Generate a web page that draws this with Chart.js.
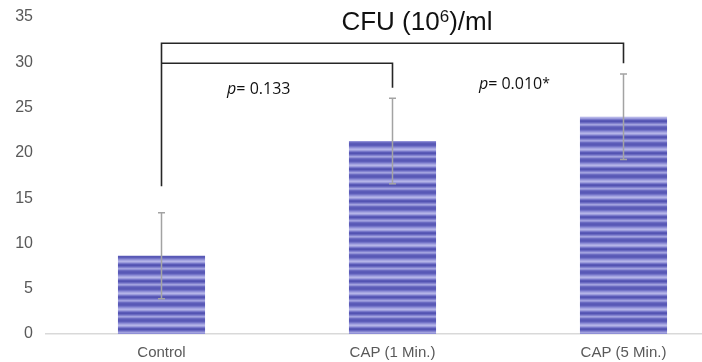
<!DOCTYPE html>
<html><head><meta charset="utf-8">
<script src="https://cdn.jsdelivr.net/npm/chart.js@4/dist/chart.umd.min.js"></script>
<style>html,body{margin:0;padding:0;overflow:hidden;background:#fff;width:702px;height:362px}
#wrap{width:740px;height:362px;position:relative}</style>
</head><body><div id="wrap"><canvas id="c" width="740" height="362"></canvas></div>
<script>
const categories = ['Control', 'CAP (1 Min.)', 'CAP (5 Min.)'];
const means = [8.65, 21.3, 24.0];
const sds = [4.75, 4.72, 4.72];
const yTicks = [0, 5, 10, 15, 20, 25, 30, 35];
// significance brackets: from/to category index, level, drop ends (data units)
const brackets = [
  {from: 0, to: 2, level: 32.1, leftEnd: 16.3, rightEnd: 29.9},
  {from: 0, to: 1, level: 29.9, leftEnd: 29.9, rightEnd: 27.2}
];
const pLabels = [
  {text: '0.133', star: '', cat: 0.284, y: 26.95},
  {text: '0.010', star: '*', cat: 1.374, y: 27.5}
];
const titleParts = {pre: 'CFU (10', sup: '6', post: ')/ml', cat: 0.779};

function stripePattern(){
  const rows = ['#5858b6','#5e5eb9','#7474c8','#8e8ed6','#a6a6e1','#b4b4e8','#9c9cdc','#7878ca','#5a5ab7','#5353b2','#6868c0','#8484d0','#a2a2df','#9090d6','#6c6cc2','#5c5cb8'];
  const pc = document.createElement('canvas'); pc.width = 4; pc.height = rows.length;
  const g = pc.getContext('2d');
  rows.forEach((c,i)=>{g.fillStyle=c; g.fillRect(0,i,4,1);});
  return document.getElementById('c').getContext('2d').createPattern(pc,'repeat');
}

const overlay = {
  id: 'overlay',
  afterDatasetsDraw(chart){
    const ctx = chart.ctx, x = chart.scales.x, y = chart.scales.y;
    const catX = v => x.getPixelForValue(v);
    ctx.save();
    // error bars
    ctx.strokeStyle = '#a3a3a3'; ctx.lineWidth = 1.5;
    means.forEach((m,i)=>{
      const cx = catX(i);
      const t = y.getPixelForValue(m+sds[i]), b = y.getPixelForValue(m-sds[i]);
      ctx.beginPath();
      ctx.moveTo(cx,t); ctx.lineTo(cx,b);
      ctx.moveTo(cx-3.5,t); ctx.lineTo(cx+3.5,t);
      ctx.moveTo(cx-3.5,b); ctx.lineTo(cx+3.5,b);
      ctx.stroke();
    });
    // brackets
    ctx.strokeStyle = '#262626'; ctx.lineWidth = 1.6;
    brackets.forEach(br=>{
      const x1 = catX(br.from), x2 = catX(br.to);
      const yl = y.getPixelForValue(br.level);
      ctx.beginPath();
      ctx.moveTo(x1, y.getPixelForValue(br.leftEnd)); ctx.lineTo(x1, yl);
      ctx.lineTo(x2, yl); ctx.lineTo(x2, y.getPixelForValue(br.rightEnd));
      ctx.stroke();
    });
    // p-values
    ctx.fillStyle = '#111'; ctx.textBaseline = 'middle'; ctx.textAlign = 'left';
    pLabels.forEach(p=>{
      let px = catX(p.cat);
      const py = y.getPixelForValue(p.y);
      ctx.font = 'italic 16px "Open Sans"';
      ctx.fillText('p', px, py);
      px += ctx.measureText('p').width;
      ctx.font = '16px "Open Sans"';
      ctx.fillText('= ' + p.text, px, py);
      px += ctx.measureText('= ' + p.text).width;
      ctx.font = '14px "Open Sans"';
      ctx.fillText(p.star, px, py - 1);
    });
    // title with superscript
    let cx = catX(titleParts.cat);
    const ty = 23;
    ctx.fillStyle = '#111';
    ctx.font = '26px "Liberation Sans"';
    ctx.fillText(titleParts.pre, cx, ty); cx += ctx.measureText(titleParts.pre).width;
    ctx.font = '17px "Liberation Sans"';
    ctx.fillText(titleParts.sup, cx, ty-6); cx += ctx.measureText(titleParts.sup).width;
    ctx.font = '26px "Liberation Sans"';
    ctx.fillText(titleParts.post, cx, ty);
    ctx.restore();
  }
};

new Chart(document.getElementById('c'), {
  type: 'bar',
  data: {
    labels: categories,
    datasets: [{data: means, backgroundColor: stripePattern(), borderWidth: 0,
      barPercentage: 0.377, categoryPercentage: 1}]
  },
  options: {
    responsive: false, animation: false,
    layout: {padding: {left: 0, right: 1, top: 17, bottom: 2}},
    plugins: {legend: {display: false}, tooltip: {enabled: false}, title: {display: false}},
    scales: {
      x: {
        grid: {display: false, drawTicks: false},
        border: {display: true, color: '#d9d9d9', width: 1.5},
        ticks: {color: '#595959', font: {family: 'Liberation Sans', size: 15}, padding: 10, maxRotation: 0},
        afterFit(s){ s.paddingLeft = 0; s.paddingRight = 0; s.height = 26; }
      },
      y: {
        min: 0, max: 35,
        afterBuildTicks(s){ s.ticks = yTicks.map(v=>({value:v})); },
        grid: {display: false, drawTicks: false},
        border: {display: false},
        ticks: {color: '#595959', font: {family: 'Liberation Sans', size: 16}, padding: 13},
        afterFit(s){ s.width = 46; s.paddingTop = 0; s.paddingBottom = 0; }
      }
    }
  },
  plugins: [overlay]
});
</script></body></html>
